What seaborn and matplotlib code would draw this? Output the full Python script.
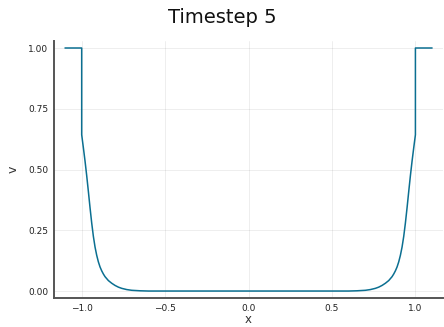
import matplotlib
matplotlib.use("Agg")
import matplotlib.pyplot as plt
import seaborn as sns
import pandas as pd

# distance from the boundary (x = -1 or x = 1) and the value
decay_d = [0.0, 0.01, 0.02, 0.03, 0.04, 0.05, 0.06, 0.07, 0.08, 0.09, 0.10,
           0.11, 0.12, 0.13, 0.14, 0.16, 0.18, 0.20, 0.22, 0.24, 0.27, 0.30, 0.35, 0.40]
decay_v = [0.643, 0.59, 0.535, 0.475, 0.41, 0.343, 0.28, 0.225, 0.181, 0.147, 0.120,
           0.099, 0.083, 0.070, 0.059, 0.043, 0.032, 0.023, 0.016, 0.011, 0.006, 0.003, 0.001, 0.0]

left_x = [-1.1, -1.0] + [-1.0 + d for d in decay_d]
left_v = [1.0, 1.0] + decay_v
right_x = [1.0 - d for d in reversed(decay_d)] + [1.0, 1.1]
right_v = list(reversed(decay_v)) + [1.0, 1.0]

x_vals = left_x + right_x
v_vals = left_v + right_v

x_ticks = [-1.0, -0.5, 0.0, 0.5, 1.0]
y_ticks = [0.0, 0.25, 0.5, 0.75, 1.0]

sns.set_style("white")
plt.rcParams['font.family'] = ['DejaVu Sans']

df = pd.DataFrame({"x": x_vals, "v": v_vals})

fig = plt.figure(figsize=(4.44, 3.27), dpi=100)
ax = fig.add_axes([0.1216, 0.0877, 0.8764, 0.7878])
sns.lineplot(data=df, x="x", y="v", sort=False, estimator=None,
             color="#0b6f91", linewidth=1.1, ax=ax)

ax.set_xlim(-1.166, 1.166)
ax.set_ylim(-0.03, 1.03)
ax.set_xticks(x_ticks)
ax.set_xticklabels(["\u22121.0", "\u22120.5", "0.0", "0.5", "1.0"])
ax.set_yticks(y_ticks)
ax.set_yticklabels(["0.00", "0.25", "0.50", "0.75", "1.00"])
ax.grid(True, color="black", alpha=0.08, linewidth=0.6)
for s in ["top", "right"]:
    ax.spines[s].set_visible(False)
for s in ["left", "bottom"]:
    ax.spines[s].set_color("#555555")
    ax.spines[s].set_linewidth(1.4)
ax.tick_params(axis="both", direction="in", length=3, width=0.8,
               color="#333333", labelsize=6.5, labelcolor="#222222", pad=4)
ax.set_xlabel("x", fontsize=8.5, color="#333333", labelpad=0)
ax.set_ylabel("v", fontsize=9, color="#333333", labelpad=6)
fig.suptitle("Timestep 5", fontsize=14, y=0.975, color="#111111")

fig.savefig("out.png", dpi=100)
